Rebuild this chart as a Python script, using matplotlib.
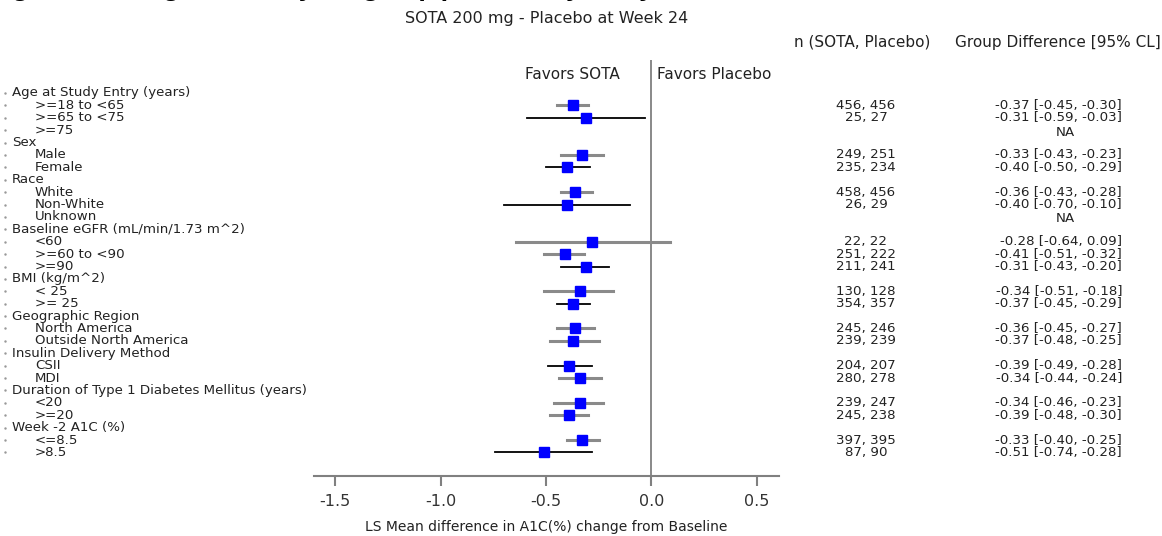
import matplotlib.pyplot as plt
import matplotlib.transforms as mtransforms

# filas del forest plot (nivel 0 = encabezado, 1 = subgrupo)
etiquetas = ['Age at Study Entry (years)', '>=18 to <65', '>=65 to <75', '>=75',
             'Sex', 'Male', 'Female',
             'Race', 'White', 'Non-White', 'Unknown',
             'Baseline eGFR (mL/min/1.73 m^2)', '<60', '>=60 to <90', '>=90',
             'BMI (kg/m^2)', '< 25', '>= 25',
             'Geographic Region', 'North America', 'Outside North America',
             'Insulin Delivery Method', 'CSII', 'MDI',
             'Duration of Type 1 Diabetes Mellitus (years)', '<20', '>=20',
             'Week -2 A1C (%)', '<=8.5', '>8.5']
niveles = [0, 1, 1, 1, 0, 1, 1, 0, 1, 1, 1, 0, 1, 1, 1, 0, 1, 1,
           0, 1, 1, 0, 1, 1, 0, 1, 1, 0, 1, 1]

# None = encabezado, 'NA' = sin estimacion
n_sota = [None, 456, 25, 'NA', None, 249, 235, None, 458, 26, 'NA', None, 22, 251, 211,
          None, 130, 354, None, 245, 239, None, 204, 280, None, 239, 245, None, 397, 87]
n_placebo = [None, 456, 27, 'NA', None, 251, 234, None, 456, 29, 'NA', None, 22, 222, 241,
             None, 128, 357, None, 246, 239, None, 207, 278, None, 247, 238, None, 395, 90]
estimacion = [None, -0.37, -0.31, None, None, -0.33, -0.40, None, -0.36, -0.40, None, None,
              -0.28, -0.41, -0.31, None, -0.34, -0.37, None, -0.36, -0.37, None, -0.39, -0.34,
              None, -0.34, -0.39, None, -0.33, -0.51]
ic_inf = [None, -0.45, -0.59, None, None, -0.43, -0.50, None, -0.43, -0.70, None, None,
          -0.64, -0.51, -0.43, None, -0.51, -0.45, None, -0.45, -0.48, None, -0.49, -0.44,
          None, -0.46, -0.48, None, -0.40, -0.74]
ic_sup = [None, -0.30, -0.03, None, None, -0.23, -0.29, None, -0.28, -0.10, None, None,
          0.09, -0.32, -0.20, None, -0.18, -0.29, None, -0.27, -0.25, None, -0.28, -0.24,
          None, -0.23, -0.30, None, -0.25, -0.28]

ticks_x = [-1.5, -1.0, -0.5, 0.0, 0.5]

# estilo de las lineas de IC (gris grueso / negro fino, como en el original)
gris = [None, True, False, None, None, True, False, None, True, False, None, None,
        True, True, False, None, True, False, None, True, True, None, False, True,
        None, True, True, None, True, False]

fig = plt.figure(figsize=(11.62, 5.36), dpi=100)
ax = fig.add_axes([314 / 1162, 1 - 476 / 536, 465 / 1162, 416 / 536])

filas = list(range(len(etiquetas)))
for i in filas:
    if estimacion[i] is None:
        continue
    if gris[i]:
        ax.plot([ic_inf[i], ic_sup[i]], [i, i], color='#8a8a8a', lw=2.2, zorder=2)
    else:
        ax.plot([ic_inf[i], ic_sup[i]], [i, i], color='black', lw=1.3, zorder=2)
    ax.plot(estimacion[i], i, marker='s', ms=6.5, color='#0000ff', zorder=3)

ax.axvline(0, color='#808080', lw=1.3, zorder=1)
ax.set_xlim(-1.6, 0.605)
ax.set_ylim(len(etiquetas) + 0.9, -2.66)

for s in ['top', 'right', 'left']:
    ax.spines[s].set_visible(False)
ax.spines['bottom'].set_color('#808080')
ax.spines['bottom'].set_linewidth(1.5)
ax.set_yticks([])
ax.set_xticks(ticks_x)
ax.set_xticklabels(['%.1f' % t for t in ticks_x])
ax.tick_params(axis='x', colors='#808080', length=7, width=1.5, pad=6, labelsize=11.5,
               labelcolor='#333333')
ax.set_xlabel('LS Mean difference in A1C(%) change from Baseline', fontsize=10,
              color='#222222', labelpad=8)

ax.text(-0.375, -1.5, 'Favors SOTA', ha='center', va='center', fontsize=11, color='#222222')
ax.text(0.3, -1.5, 'Favors Placebo', ha='center', va='center', fontsize=11, color='#222222')

trans = mtransforms.blended_transform_factory(fig.transFigure, ax.transData)
for i in filas:
    x = 12 / 1162 if niveles[i] == 0 else 35 / 1162
    ax.text(x, i, etiquetas[i], transform=trans, ha='left', va='center', fontsize=9.6,
            color='#222222', clip_on=False)
    ax.plot([5 / 1162], [i], transform=trans, marker='.', ms=1.5, color='#999999',
            clip_on=False)
    if n_sota[i] is None:
        continue
    if estimacion[i] is None:
        ax.text(1065 / 1162, i + 0.15, 'NA', transform=trans, ha='center', va='center',
                fontsize=9.6, color='#222222', clip_on=False)
        continue
    ax.text(866 / 1162, i, '%d, %d' % (n_sota[i], n_placebo[i]), transform=trans,
            ha='center', va='center', fontsize=9.6, color='#222222', clip_on=False)
    ax.text(1122 / 1162, i, '%.2f [%.2f, %.2f]' % (estimacion[i], ic_inf[i], ic_sup[i]),
            transform=trans, ha='right', va='center', fontsize=9.6, color='#222222',
            clip_on=False)

fig.text(862 / 1162, 1 - 42 / 536, 'n (SOTA, Placebo)', ha='center', va='center',
         fontsize=11, color='#222222')
fig.text(1058 / 1162, 1 - 42 / 536, 'Group Difference [95% CL]', ha='center', va='center',
         fontsize=11, color='#222222')
fig.text(547 / 1162, 1 - 19 / 536, 'SOTA 200 mg - Placebo at Week 24', ha='center',
         va='center', fontsize=11.5, color='#222222')

# titulo principal (cortado arriba en la imagen original)
fig.text(-0.005, 1.0 + 3 / 536, 'Figure 2: Change in A1C by Subgroup per Primary Analysis: Forest Plot (%)',
         ha='left', va='baseline', fontsize=15, fontweight='bold', fontstyle='italic',
         color='black')

fig.savefig('out.png', dpi=100)
